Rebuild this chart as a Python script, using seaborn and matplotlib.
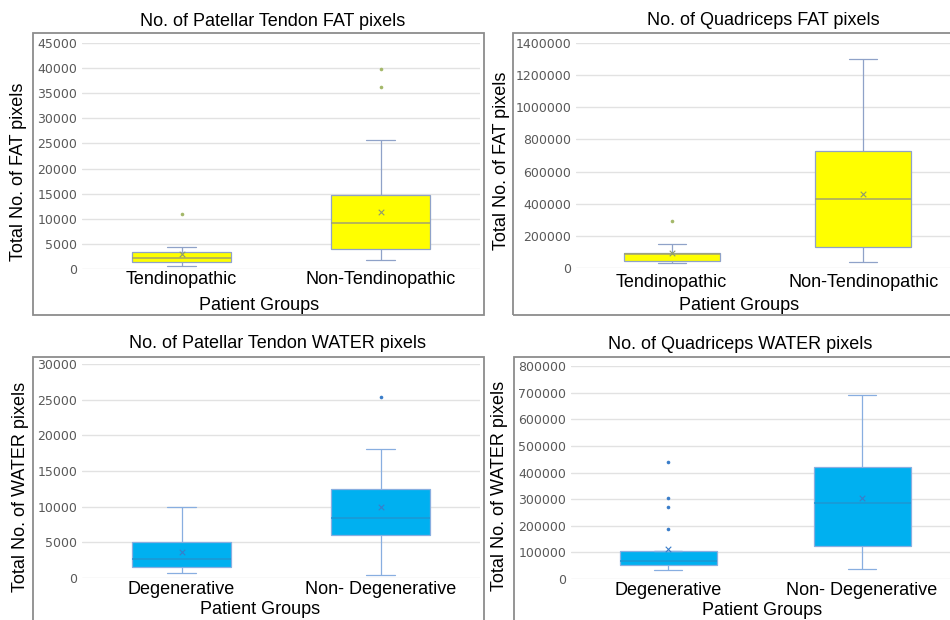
import matplotlib
matplotlib.use("Agg")
import matplotlib.pyplot as plt
import numpy as np
import pandas as pd
import seaborn as sns
from matplotlib.patches import Rectangle
from matplotlib.ticker import StrMethodFormatter


# groups on the x axis
fat_groups = ["Tendinopathic", "Non-Tendinopathic"]
water_groups = ["Degenerative", "Non- Degenerative"]

# five-number summaries: whisker low, Q1, median, Q3, whisker high
pt_fat_tend = [600, 1450, 2250, 3450, 4300]
pt_fat_non = [1700, 3900, 9100, 14750, 25650]
pt_fat_means = [2950, 11300]
pt_fat_out_tend = [11000]
pt_fat_out_non = [36200, 39750]

q_fat_tend = [31000, 43500, 88000, 95000, 147000]
q_fat_non = [35300, 130700, 429300, 725900, 1300400]
q_fat_means = [91000, 462500]
q_fat_out_tend = [292400]
q_fat_out_non = []

pt_water_deg = [750, 1590, 2620, 5000, 10000]
pt_water_non = [470, 6080, 8420, 12540, 18050]
pt_water_means = [3650, 10000]
pt_water_out_deg = []
pt_water_out_non = [25370]

q_water_deg = [33700, 52400, 66100, 104800, 104800]
q_water_non = [38700, 122300, 284600, 420600, 692700]
q_water_means = [113600, 303300]
q_water_out_deg = [187200, 269600, 303300, 439300]
q_water_out_non = []

W, H = 950, 620

YELLOW = dict(fill="#FFFF00", edge="#8FA2C8", median="#A3A36E",
              flier="#A4B86A", mean="#8E9A70")
BLUE = dict(fill="#00B0F0", edge="#88AEE0", median="#1E96D2",
            flier="#3A7DC9", mean="#3A7DC9")

sns.set_style("whitegrid", {"grid.color": "#E2E2E2", "axes.edgecolor": "white"})
plt.rcParams["font.family"] = ["Liberation Sans", "DejaVu Sans"]

fig = plt.figure(figsize=(9.5, 6.2), dpi=100)


def add_axes_px(left, top, right, bottom):
    return fig.add_axes([left / W, 1 - bottom / H, (right - left) / W, (bottom - top) / H])


def frame_px(left, top, right, bottom):
    fig.patches.append(Rectangle((left / W, 1 - bottom / H), (right - left) / W,
                                 (bottom - top) / H, transform=fig.transFigure,
                                 fill=False, edgecolor="#8C8C8C", linewidth=1.3))


def panel(ax, groups, boxes, means, outliers, pal, ytop, ystep, tick_pad):
    box_df = pd.DataFrame({"group": np.repeat(groups, 5),
                           "value": np.concatenate(boxes)})
    sns.boxplot(data=box_df, x="group", y="value", order=groups, whis=np.inf,
                width=0.5, color=pal["fill"], saturation=1, linecolor=pal["edge"],
                linewidth=0.9, showfliers=False,
                medianprops=dict(color=pal["median"], linewidth=1.1), ax=ax)

    # narrower whisker caps, like the Excel original
    for line in ax.lines:
        xs, ys = np.asarray(line.get_xdata(), float), np.asarray(line.get_ydata(), float)
        if len(xs) == 2 and ys[0] == ys[1] and abs(xs[1] - xs[0]) < 0.3:
            mid = xs.mean()
            line.set_xdata([mid - 0.073, mid + 0.073])

    out_vals = [v for g in outliers for v in g]
    out_grp = [groups[i] for i, g in enumerate(outliers) for _ in g]
    out_df = pd.DataFrame({"group": out_grp, "value": out_vals})
    sns.stripplot(data=out_df, x="group", y="value", order=groups, jitter=False,
                  color=pal["flier"], size=2.6, linewidth=0, ax=ax)

    mean_df = pd.DataFrame({"group": groups, "value": means})
    sns.stripplot(data=mean_df, x="group", y="value", order=groups, jitter=False,
                  marker="x", color=pal["mean"], size=4, linewidth=0.8, ax=ax)

    ax.set_xlim(-0.5, 1.5)
    ax.set_ylim(0, ytop)
    ax.set_yticks(np.arange(0, ytop + 1, ystep))
    ax.yaxis.set_major_formatter(StrMethodFormatter("{x:.0f}"))
    ax.grid(axis="y", color="#E2E2E2", linewidth=1)
    ax.grid(axis="x", visible=False)
    ax.set_axisbelow(True)
    for s in ax.spines.values():
        s.set_visible(False)
    ax.tick_params(axis="y", length=0, pad=3.5, labelsize=9, labelcolor="#595959")
    ax.tick_params(axis="x", length=0, pad=tick_pad, labelsize=13, labelcolor="black")
    for lab in ax.get_yticklabels():
        lab.set_fontfamily("DejaVu Sans")
    ax.set_xlabel("")
    ax.set_ylabel("")


def texts(title, tx, ty, ylab, yx, yy, lx, ly):
    fig.text(tx / W, 1 - ty / H, title, ha="center", va="baseline",
             fontsize=13, color="black")
    fig.text(yx / W, 1 - yy / H, ylab, ha="center", va="center", rotation=90,
             fontsize=13, color="black")
    fig.text(lx / W, 1 - ly / H, "Patient Groups", ha="center", va="baseline",
             fontsize=13, color="black")


# top-left: patellar tendon FAT
frame_px(33, 33, 484, 315)
ax1 = add_axes_px(82, 43, 480, 269)
panel(ax1, fat_groups, [pt_fat_tend, pt_fat_non], pt_fat_means,
      [pt_fat_out_tend, pt_fat_out_non], YELLOW, 45000, 5000, 1.5)
texts("No. of Patellar Tendon FAT pixels", 273, 26,
      "Total No. of FAT pixels", 18.5, 172, 259, 310)

# top-right: quadriceps FAT
frame_px(513, 33, 962, 315)
ax2 = add_axes_px(576, 43, 959, 268)
panel(ax2, fat_groups, [q_fat_tend, q_fat_non], q_fat_means,
      [q_fat_out_tend, q_fat_out_non], YELLOW, 1400000, 200000, 4)
texts("No. of Quadriceps FAT pixels", 763, 25,
      "Total No. of FAT pixels", 501, 161, 739, 310)

# bottom-left: patellar tendon WATER
frame_px(33, 357, 484, 640)
ax3 = add_axes_px(82, 364, 480, 578)
panel(ax3, water_groups, [pt_water_deg, pt_water_non], pt_water_means,
      [pt_water_out_deg, pt_water_out_non], BLUE, 30000, 5000, 2.5)
texts("No. of Patellar Tendon WATER pixels", 277.5, 348,
      "Total No. of WATER pixels", 21, 487, 260, 614.5)

# bottom-right: quadriceps WATER
frame_px(514, 357, 962, 640)
ax4 = add_axes_px(571, 366, 959, 579)
panel(ax4, water_groups, [q_water_deg, q_water_non], q_water_means,
      [q_water_out_deg, q_water_out_non], BLUE, 800000, 100000, 2.5)
texts("No. of Quadriceps WATER pixels", 740, 349,
      "Total No. of WATER pixels", 500, 486, 762, 615)

fig.savefig("out.png", dpi=100)
